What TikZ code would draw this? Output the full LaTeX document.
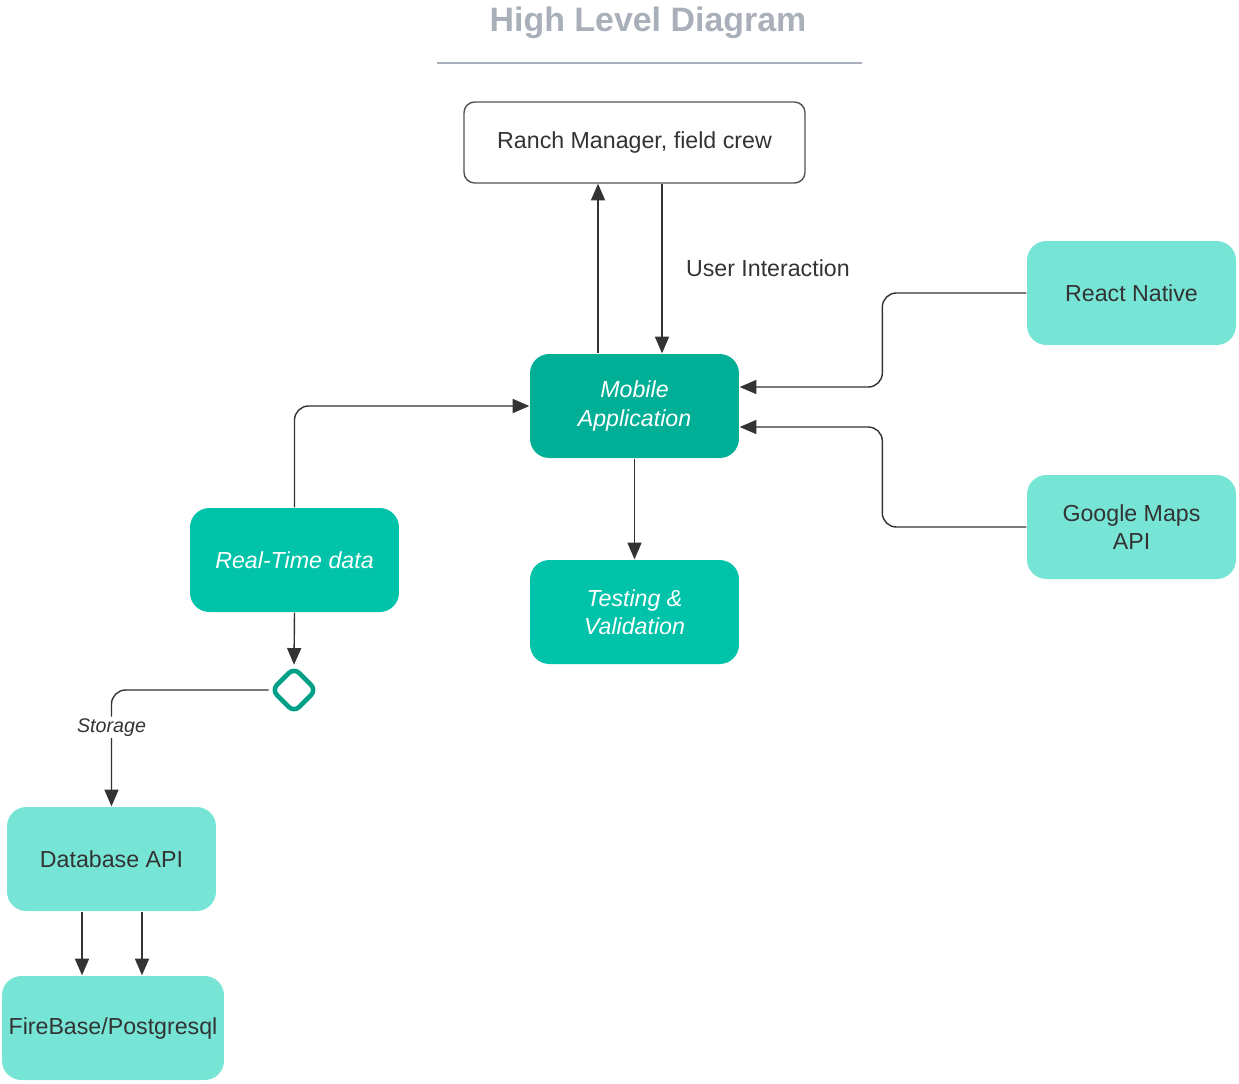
\documentclass[tikz,border=0pt]{standalone}
\usepackage{fontspec}
\setmainfont{Liberation Sans}
\usetikzlibrary{arrows.meta,shapes.geometric}

\definecolor{inkgray}{HTML}{333333}
\definecolor{titlegray}{HTML}{A9B0BA}
\definecolor{tealdark}{HTML}{00AF95}
\definecolor{tealmid}{HTML}{00C3A9}
\definecolor{teallight}{HTML}{77E5D6}
\definecolor{tealgate}{HTML}{00A088}

\begin{document}
\begin{tikzpicture}[x=0.02cm,y=-0.02cm,->,>={Triangle[length=9.5pt,width=8pt]},
  line width=0.8pt,draw=inkgray,
  every node/.style={font=\fontsize{13.2}{16}\selectfont,text=inkgray,align=center},
  box/.style={draw=inkgray!85,line width=0.8pt,fill=white,rounded corners=6pt,
    minimum width=6.82cm,minimum height=1.62cm},
  app/.style={fill=tealdark,draw=none,rounded corners=11pt,text=white,
    font=\fontsize{13.2}{16}\selectfont\itshape,minimum width=4.18cm,minimum height=2.08cm},
  data/.style={app,fill=tealmid},
  ext/.style={fill=teallight,draw=none,rounded corners=11pt,
    minimum width=4.18cm,minimum height=2.08cm},
  gate/.style={diamond,draw=tealgate,line width=2.6pt,fill=white,rounded corners=4pt,
    minimum width=0.92cm,minimum height=0.92cm,inner sep=0pt}]
\useasboundingbox (0,0) rectangle (1239,1083);

% title
\node[font=\fontsize{19.3}{22}\selectfont\bfseries,text=titlegray] (title) at (648,23) {High Level Diagram};
\draw[-,draw=titlegray,line width=1.1pt] (437,63) -- (862,63);

% nodes
\node[box] (ranch) at (634.5,142.5) {Ranch Manager, field crew};
\node[app] (app) at (634.5,406) {Mobile\\Application};
\node[data] (rt) at (294.5,560) {Real-Time data};
\node[data] (test) at (634.5,612) {Testing \&\\Validation};
\node[ext] (rn) at (1131.5,293) {React Native};
\node[ext] (gm) at (1131.5,527) {Google Maps\\API};
\node[gate] (gate) at (294,690) {};
\node[ext] (db) at (111.5,859) {Database API};
\node[ext,minimum width=4.44cm] (fb) at (113,1028) {FireBase/Postgresql};

% connectors
\draw ([xshift=-0.73cm]app.north) -- ([xshift=-0.73cm]app.north |- ranch.south);
\draw ([xshift=0.55cm]app.north |- ranch.south) -- node[right=0.35cm,pos=0.5] {User Interaction} ([xshift=0.55cm]app.north);
\draw[rounded corners=8pt] (rn.west) -- ++(-144,0) |- ([yshift=0.38cm]app.east);
\draw[rounded corners=8pt] (gm.west) -- ++(-144,0) |- ([yshift=-0.42cm]app.east);
\draw[rounded corners=8pt] (rt.north) |- (app.west);
\draw (app.south) -- (test.north);
\draw (rt.south) -- (gate.north);
\draw[rounded corners=8pt] (gate.west) -| node[pos=0.66,fill=white,inner sep=1pt,
  font=\fontsize{11.2}{13}\selectfont\itshape] {Storage} (db.north);
\draw ([xshift=-0.59cm]db.south) -- ([xshift=-0.59cm]db.south |- fb.north);
\draw ([xshift=0.61cm]db.south) -- ([xshift=0.61cm]db.south |- fb.north);
\end{tikzpicture}
\end{document}
